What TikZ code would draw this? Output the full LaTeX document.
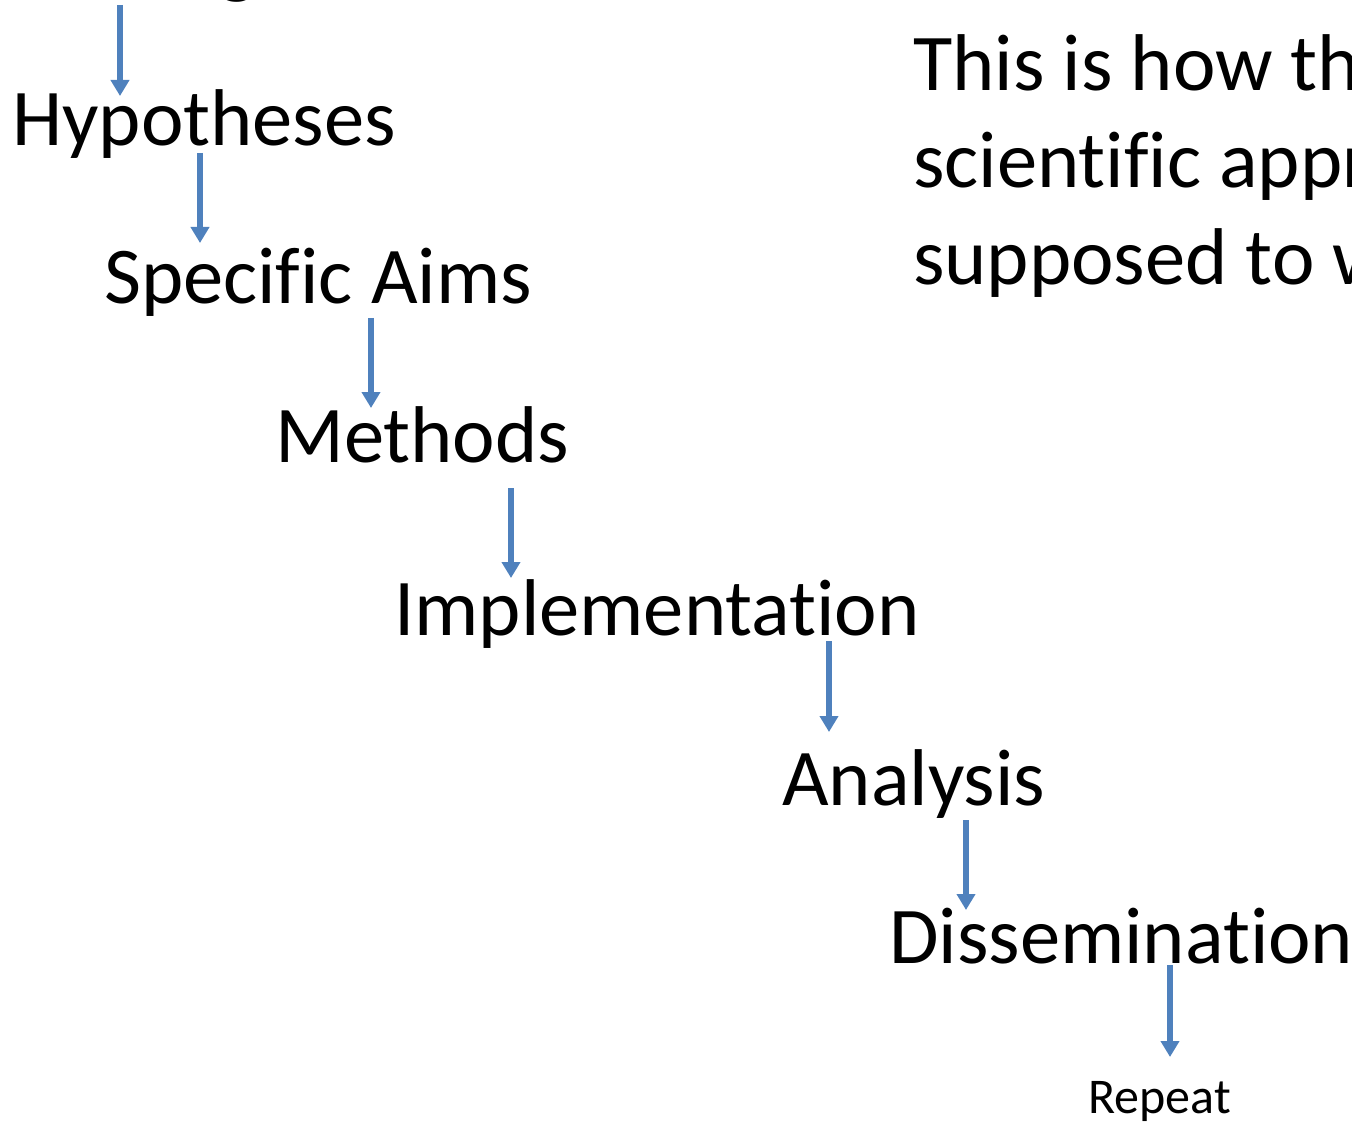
\documentclass[tikz,border=0pt]{standalone}
\usepackage{fontspec}
\setmainfont[Ligatures=NoCommon]{Carlito}
\usepackage{tikz}
\usetikzlibrary{arrows.meta,calc}
\definecolor{arrowblue}{RGB}{79,129,189}
\tikzstyle{stage}=[anchor=base west,
	inner sep=0pt,
	text=black,
	font=\fontsize{80.5}{97}\selectfont]
\tikzstyle{note}=[anchor=base west,
	inner sep=0pt,
	align=left,
	text=black,
	font=\fontsize{80.5}{97}\selectfont]
\tikzstyle{small}=[anchor=base west,
	inner sep=0pt,
	text=black,
	font=\fontsize{50}{60}\selectfont]
\tikzstyle{flow}=[draw=arrowblue,
	line width=5.5pt,
	-{Triangle[width=18pt,length=16pt]}]

\begin{document}
\begin{tikzpicture}[x=1pt,y=-1pt]
					\clip (0,0) rectangle (1352,1123);
					\node (gword) [stage] at (218,-11) {g};
					\node (hyp) [stage] at (12,146) {Hypotheses};
					\node (aims) [stage] at (104,304) {Specific Aims};
					\node (methods) [stage] at (275,462) {Methods};
					\node (impl) [stage] at (394,635) {Implementation};
					\node (analysis) [stage] at (782,805) {Analysis};
					\node (dissem) [stage] at (889,963) {Dissemination};
					\node (repeat) [small] at (1088,1113) {Repeat};

					\node (howto) [note] at (913,285) {This is how th\\scientific appr\\supposed to w};

					\draw[flow] ($(gword.base -| 120,0)+(0,16)$) -- ($(hyp.base -| 120,0)+(0,-50)$);
					\draw[flow] ($(hyp.base -| 200,0)+(0,7)$) -- ($(aims.base -| 200,0)+(0,-61)$);
					\draw[flow] ($(aims.base -| 371,0)+(0,14)$) -- ($(methods.base -| 371,0)+(0,-54)$);
					\draw[flow] ($(methods.base -| 511,0)+(0,26)$) -- ($(impl.base -| 511,0)+(0,-57)$);
					\draw[flow] ($(impl.base -| 829,0)+(0,6)$) -- ($(analysis.base -| 829,0)+(0,-73)$);
					\draw[flow] ($(analysis.base -| 966,0)+(0,15)$) -- ($(dissem.base -| 966,0)+(0,-53)$);
					\draw[flow] ($(dissem.base -| 1170,0)+(0,2)$) -- ($(repeat.base -| 1170,0)+(0,-56)$);
				\end{tikzpicture}
\end{document}
